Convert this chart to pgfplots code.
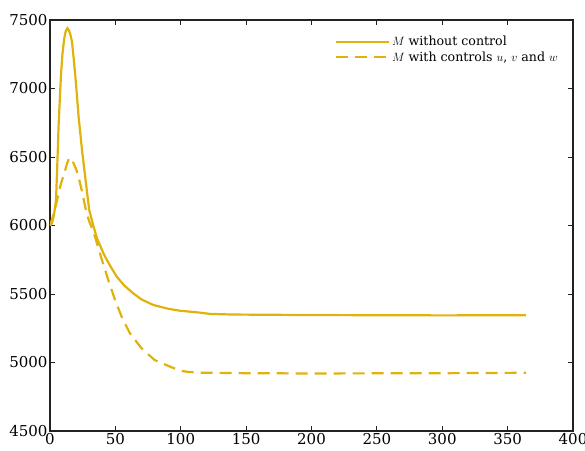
\documentclass[border=0pt]{standalone}
\usepackage{fontspec}
\setmainfont{DejaVu Serif}
\usepackage{pgfplots}
\pgfplotsset{compat=1.18}
\definecolor{gold}{RGB}{224,178,12}
\definecolor{framegray}{RGB}{34,34,34}

\begin{document}
\begin{tikzpicture}
\begin{axis}[
  scale only axis,
  width=523pt, height=411pt,
  xmin=0, xmax=400, ymin=4500, ymax=7500,
  xtick={0,50,...,400},
  ytick={4500,5000,...,7500},
  tick align=inside,
  major tick length=5pt,
  axis line style={framegray, line width=1.3pt},
  every tick/.style={framegray, line width=0.9pt},
  /pgf/number format/assume math mode=true,
  /pgf/number format/1000 sep={},
  tick label style={font=\fontsize{15}{18}\selectfont},
  xticklabel style={yshift=1pt},
  yticklabel style={xshift=1pt},
  legend style={draw=none, fill=none,
    at={(rel axis cs:1,1)}, anchor=north east,
    xshift=-10pt, yshift=-12pt,
    font=\fontsize{12.6}{15}\selectfont,
    row sep=0.5pt},
  legend cell align=left,
  legend image code/.code={\draw[#1] (0pt,0pt) -- (47pt,0pt);
    \path (0pt,0pt) -- (53pt,0pt);},
]
\coordinate (sw) at (rel axis cs:0,0);
\coordinate (ne) at (rel axis cs:1,1);

% population M, no intervention
\addplot[gold, line width=2.2pt] coordinates {
(0,6000) (1.5,6016) (3,6075) (4.6,6186) (5.5,6420) (6.6,6734) (7.5,6920)
(8.4,7099) (9.5,7250) (10.9,7366) (12,7418) (13.3,7440) (14.5,7425)
(15.7,7390) (16.8,7342) (18,7230) (19.3,7099) (20.6,6950) (21.9,6790)
(23,6690) (24.5,6550) (26.3,6405) (28,6270) (30,6113) (32,6040) (33.1,6000)
(36,5905) (40.8,5799) (43.4,5750) (47,5690) (51,5627) (57,5560) (63.7,5505)
(70,5460) (79,5420) (90,5393) (99.4,5378) (114.7,5364) (122,5355)
(140,5350) (191,5347) (250,5345) (300,5344) (364,5345)
};
\addlegendentry{$M$ without control}

% population M under the three controls
\addplot[gold, line width=2.2pt, dash pattern=on 12pt off 7pt] coordinates {
(0,6000) (2,6060) (3.3,6100) (5.1,6170) (6.6,6237) (8.5,6310) (11,6383)
(13,6450) (14.3,6485) (15.5,6495) (17,6475) (18.6,6442) (20.4,6400)
(22.4,6332) (24.2,6260) (26.3,6164) (28,6090) (30,6030) (31.9,5985)
(35,5900) (40,5740) (45,5590) (50,5450) (55,5330) (61,5215) (70,5104)
(80,5018) (92,4969) (100,4940) (105,4932) (115,4926) (150,4922)
(200,4920) (250,4921) (300,4922) (364,4925)
};
\addlegendentry{$M$ with controls $u$, $v$ and $w$}
\end{axis}
\pgfresetboundingbox
\path ([shift={(-50pt,-19pt)}]sw) rectangle ([shift={(12pt,20pt)}]ne);
\end{tikzpicture}
\end{document}
